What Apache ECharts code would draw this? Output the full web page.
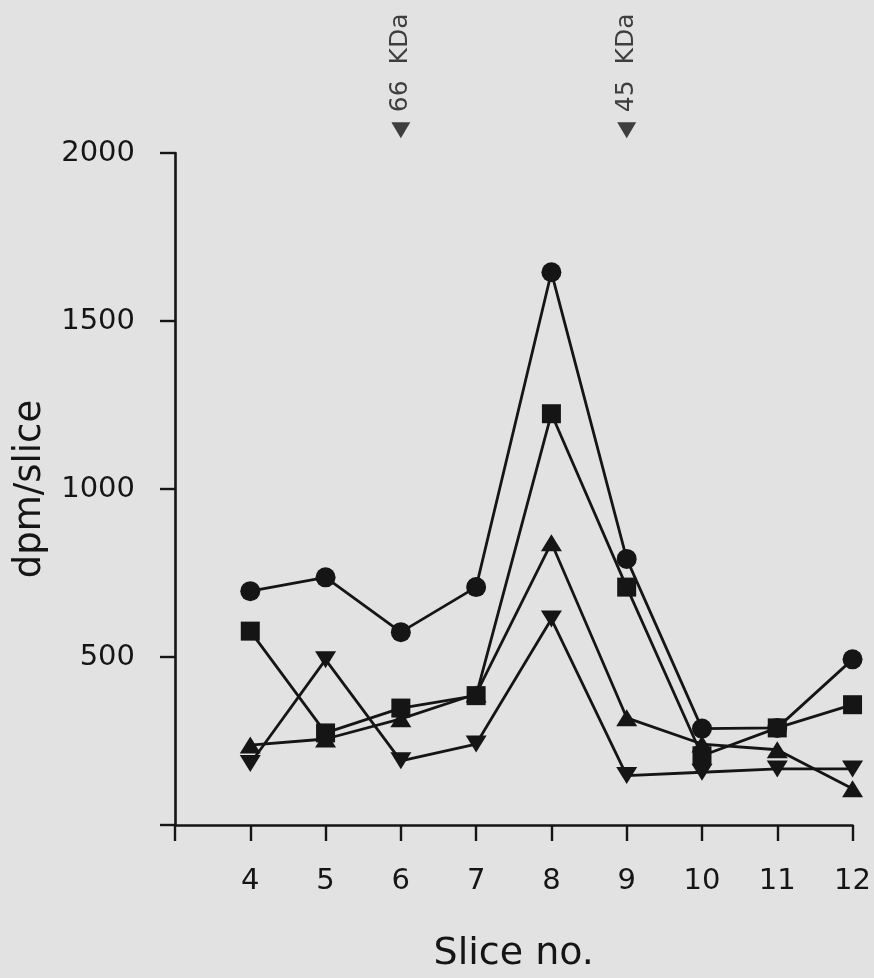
<!DOCTYPE html>
<html>
<head>
<meta charset="utf-8">
<script src="https://cdn.jsdelivr.net/npm/echarts@6/dist/echarts.min.js"></script>
<style>
html,body{margin:0;padding:0;background:#e2e2e2;}
#chart{width:874px;height:978px;}
</style>
</head>
<body>
<div id="chart"></div>
<script>
// Slice numbers (x)
const slices = [4, 5, 6, 7, 8, 9, 10, 11, 12];
// dpm/slice values for each symbol series
const circleValues   = [696, 737, 574, 708, 1645, 792, 287, 289, 493];
const squareValues   = [577, 274, 348, 385, 1224, 708, 206, 289, 358];
const upTriValues    = [238, 256, 316, 390, 840, 319, 241, 224, 108];
const downTriValues  = [183, 492, 191, 241, 613, 147, 157, 167, 167];
// Molecular weight markers
const markerSlices = [6, 9];
const markerLabels = ['66  KDa', '45  KDa'];
const markerLevel = 2068;
// Axis ticks
const yTicks = [500, 1000, 1500, 2000];
const xTickLabels = ['4', '5', '6', '7', '8', '9', '10', '11', '12'];

const ink = '#151515';
const font = 'DejaVu Sans';

function pairs(vals) { return slices.map((s, i) => [s, vals[i]]); }

function lineSeries(name, vals, symbol, size, rotate) {
  return {
    name: name,
    type: 'line',
    data: pairs(vals),
    symbol: symbol,
    symbolSize: size,
    symbolRotate: rotate || 0,
    showAllSymbol: true,
    lineStyle: { color: ink, width: 2.8 },
    itemStyle: { color: ink, borderWidth: 0 },
    emphasis: { disabled: true },
    animation: false
  };
}

const chart = echarts.init(document.getElementById('chart'), null, { renderer: 'canvas' });
chart.setOption({
  backgroundColor: '#e2e2e2',
  animation: false,
  grid: { left: 175, right: 21, top: 153, bottom: 148, containLabel: false },
  xAxis: {
    type: 'value',
    min: 3, max: 12, interval: 1,
    name: 'Slice no.',
    nameLocation: 'middle',
    nameGap: 110,
    nameTextStyle: { fontFamily: font, fontSize: 38, color: ink },
    axisLine: { show: true, onZero: false, lineStyle: { color: ink, width: 2.6 } },
    axisTick: { show: true, inside: false, length: 16, lineStyle: { color: ink, width: 2.4 } },
    axisLabel: {
      margin: 42, fontFamily: font, fontSize: 29, color: ink,
      formatter: function (v) { const i = slices.indexOf(v); return i >= 0 ? xTickLabels[i] : ''; }
    },
    splitLine: { show: false }
  },
  yAxis: {
    type: 'value',
    min: 0, max: 2000, interval: 500,
    name: 'dpm/slice',
    nameLocation: 'middle',
    nameGap: 126,
    nameRotate: 90,
    nameTextStyle: { fontFamily: font, fontSize: 37, color: ink },
    axisLine: { show: true, lineStyle: { color: ink, width: 2.6 } },
    axisTick: { show: true, inside: false, length: 15, lineStyle: { color: ink, width: 2.4 } },
    axisLabel: {
      margin: 40, fontFamily: font, fontSize: 29, color: ink,
      formatter: function (v) { return yTicks.indexOf(v) >= 0 ? String(v) : ''; }
    },
    splitLine: { show: false }
  },
  series: [
    lineSeries('down', downTriValues, 'triangle', [21, 17], 180),
    lineSeries('up', upTriValues, 'triangle', [21, 17], 0),
    lineSeries('square', squareValues, 'rect', [19, 19], 0),
    lineSeries('circle', circleValues, 'circle', 20, 0),
    {
      name: 'markers',
      type: 'scatter',
      data: markerSlices.map((s, i) => ({ value: [s, markerLevel], name: markerLabels[i] })),
      symbol: 'triangle',
      symbolRotate: 180,
      symbolSize: [19, 16],
      clip: false,
      itemStyle: { color: ink },
      emphasis: { disabled: true },
      label: {
        show: true,
        position: 'top',
        distance: 10,
        rotate: 90,
        align: 'left',
        verticalAlign: 'middle',
        formatter: function (p) { return p.name; },
        fontFamily: font,
        fontSize: 25,
        color: ink
      }
    }
  ]
});
</script>
</body>
</html>
